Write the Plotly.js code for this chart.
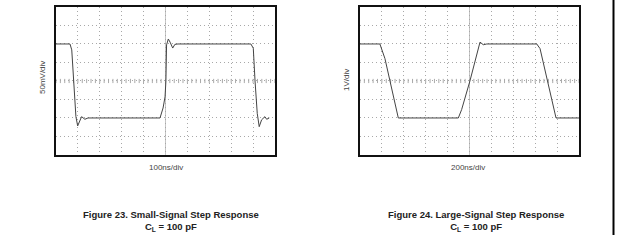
<!DOCTYPE html>
<html>
<head>
<meta charset="utf-8">
<script src="https://cdn.plot.ly/plotly-3.0.1.min.js"></script>
<style>
html,body{margin:0;padding:0;background:#fff;}
#chart{width:620px;height:241px;}
</style>
</head>
<body>
<div id="chart"></div>
<script>
// Small-signal step response (time in divisions, voltage in divisions)
var smallTime = [0, 0.64, 0.72, 0.82, 0.91, 0.99, 1.10, 1.17, 1.32, 1.46, 4.75, 4.89, 4.98, 5.02, 5.05, 5.13, 5.21, 5.33, 5.43, 5.57, 8.90, 9.01, 9.09, 9.19, 9.28, 9.39, 9.54, 9.62, 9.74];
var smallVolt = [2.0, 2.0, 1.68, 0.0, -1.93, -2.43, -2.1, -1.93, -2.07, -2.0, -2.0, -1.46, -0.86, 0.0, 1.95, 2.27, 2.1, 1.78, 1.98, 2.0, 2.0, 1.77, 0.0, -1.75, -2.47, -2.1, -1.93, -2.07, -2.0];
// Large-signal step response
var largeTime = [0, 0.91, 1.14, 1.75, 4.49, 4.64, 5.02, 5.48, 5.63, 5.79, 8.07, 8.22, 8.95, 10];
var largeVolt = [2.0, 2.0, 1.21, -2.0, -2.0, -1.55, 0.0, 2.1, 1.96, 2.0, 2.0, 1.75, -2.0, -2.0];

var smallYLabel = "50mV/div", smallXLabel = "100ns/div";
var largeYLabel = "1V/div", largeXLabel = "200ns/div";
var smallCaption = "<b>Figure 23. Small-Signal Step Response</b><br><b>C<sub>L</sub> = 100 pF</b>";
var largeCaption = "<b>Figure 24. Large-Signal Step Response</b><br><b>C<sub>L</sub> = 100 pF</b>";

// center-line minor tick decoration
var hx = [], hy = [];
for (var i = 0; i <= 50; i++) { hx.push(i * 0.2); hy.push(0); }

function tickTrace(xa, ya) {
  return {x: hx, y: hy, xaxis: xa, yaxis: ya, mode: 'markers', hoverinfo: 'skip',
     marker: {symbol: 'line-ns-open', size: 3, color: '#aaa', line: {width: 1, color: '#aaa'}}};
}

var traces = [
  tickTrace('x', 'y'), tickTrace('x2', 'y2'),
  {x: smallTime, y: smallVolt, xaxis: 'x', yaxis: 'y', mode: 'lines', line: {color: '#444', width: 1}, hoverinfo: 'skip'},
  {x: largeTime, y: largeVolt, xaxis: 'x2', yaxis: 'y2', mode: 'lines', line: {color: '#444', width: 1}, hoverinfo: 'skip'}
];

function xax(dom, anchor) {
  return {domain: dom, anchor: anchor, range: [0, 10], dtick: 1, tick0: 0, showticklabels: false, ticks: '',
    showgrid: true, griddash: '1px,3px', gridcolor: '#a8a8a8', gridwidth: 1, zeroline: false,
    showline: true, mirror: true, linecolor: '#111', linewidth: 2, fixedrange: true};
}
function yax(anchor) {
  return {domain: [0.357, 0.971], anchor: anchor, range: [-4, 4], dtick: 1, tick0: 0, showticklabels: false, ticks: '',
    showgrid: true, griddash: '1px,3px', gridcolor: '#a8a8a8', gridwidth: 1, zeroline: false,
    showline: true, mirror: true, linecolor: '#111', linewidth: 2, fixedrange: true};
}

var axFont = {family: 'Liberation Sans, Arial, sans-serif', size: 8, color: '#444'};
var capFont = {family: 'Liberation Sans, Arial, sans-serif', size: 9.5, color: '#222'};

var layout = {
  width: 620, height: 241,
  margin: {l: 0, r: 0, t: 0, b: 0},
  paper_bgcolor: '#fff', plot_bgcolor: '#fff',
  showlegend: false,
  xaxis: xax([0.0903, 0.4435], 'y'),
  yaxis: yax('x'),
  xaxis2: xax([0.5806, 0.9339], 'y2'),
  yaxis2: yax('x2'),
  shapes: [
    {type: 'line', xref: 'x', yref: 'y', x0: 5, x1: 5, y0: -4, y1: 4, line: {color: '#c4c4c4', width: 1}, layer: 'below'},
    {type: 'line', xref: 'x2', yref: 'y2', x0: 5, x1: 5, y0: -4, y1: 4, line: {color: '#c4c4c4', width: 1}, layer: 'below'},
    {type: 'line', xref: 'paper', yref: 'paper', x0: 613.5/620, x1: 613.5/620, y0: 0.025, y1: 1, line: {color: '#000', width: 2}}
  ],
  annotations: [
    {text: smallYLabel, xref: 'paper', yref: 'paper', x: 43/620, y: 1 - 78/241, textangle: -90, showarrow: false, font: axFont, xanchor: 'center', yanchor: 'middle'},
    {text: smallXLabel, xref: 'paper', yref: 'paper', x: 166/620, y: 1 - 167/241, showarrow: false, font: axFont, xanchor: 'center', yanchor: 'middle'},
    {text: largeYLabel, xref: 'paper', yref: 'paper', x: 347/620, y: 1 - 80/241, textangle: -90, showarrow: false, font: axFont, xanchor: 'center', yanchor: 'middle'},
    {text: largeXLabel, xref: 'paper', yref: 'paper', x: 468/620, y: 1 - 167/241, showarrow: false, font: axFont, xanchor: 'center', yanchor: 'middle'},
    {text: smallCaption, xref: 'paper', yref: 'paper', x: 171/620, y: 1 - 220.5/241, showarrow: false, font: capFont, xanchor: 'center', yanchor: 'middle', align: 'center'},
    {text: largeCaption, xref: 'paper', yref: 'paper', x: 476/620, y: 1 - 220.5/241, showarrow: false, font: capFont, xanchor: 'center', yanchor: 'middle', align: 'center'}
  ]
};

Plotly.newPlot('chart', traces, layout, {staticPlot: true, displayModeBar: false});
</script>
</body>
</html>
